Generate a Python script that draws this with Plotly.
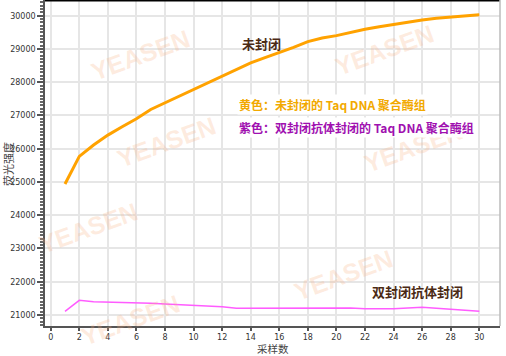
import plotly.graph_objects as go

# ---- data ----
samples = list(range(1, 31))
unblocked = [24940, 25770, 26110, 26410, 26660, 26900, 27180, 27380, 27580, 27790,
             27980, 28170, 28380, 28580, 28740, 28890, 29050, 29220, 29330, 29400,
             29500, 29590, 29670, 29740, 29800, 29870, 29920, 29960, 29990, 30030]
double_blocked = [21110, 21440, 21400, 21390, 21390, 21370, 21350, 21330, 21310, 21300,
                  21290, 21250, 21200, 21200, 21200, 21200, 21200, 21200, 21200, 21220,
                  21210, 21190, 21180, 21190, 21210, 21230, 21200, 21170, 21140, 21110]
x_ticks = list(range(0, 31, 2))
y_ticks = list(range(21000, 30001, 1000))

label_unblocked = "未封闭"
label_double = "双封闭抗体封闭"
legend_yellow = "黄色：未封闭的 Taq DNA 聚合酶组"
legend_purple = "紫色：双封闭抗体封闭的 Taq DNA 聚合酶组"
x_title = "采样数"
y_title = "荧光强度"

# ---- figure ----
W, H = 506, 356
L, R, T, B = 45, 6, 0, 30
pw, ph = W - L - R, H - T - B


def px(x):
    return (x - L) / pw


def py(y):
    return (H - B - y) / ph


fig = go.Figure()
fig.add_trace(go.Scatter(x=samples, y=unblocked, mode="lines",
                         line=dict(color="#FFA200", width=3), showlegend=False))
fig.add_trace(go.Scatter(x=samples, y=double_blocked, mode="lines",
                         line=dict(color="#FF5CFF", width=1.5), showlegend=False))

cjk = "Noto Sans CJK SC"
ann = []
# watermarks
for (cx, cy) in [(140, 55), (166, 142), (384, 50), (413, 147), (88, 228),
                 (130, 320), (343, 275)]:
    ann.append(dict(text="<b>YEASEN</b>", xref="paper", yref="paper", x=px(cx), y=py(cy),
                    xanchor="center", yanchor="middle",
                    showarrow=False, textangle=-20,
                    font=dict(family="Liberation Sans", size=25, color="rgba(248,175,130,0.25)")))


def text_ann(text, x, y, font, xanchor="center", angle=0, bg=None, pad=1):
    d = dict(text=text, xref="paper", yref="paper", x=px(x), y=py(y),
             xanchor=xanchor, yanchor="middle", showarrow=False, textangle=angle,
             font=font, borderpad=pad)
    if bg:
        d["bgcolor"] = bg
    return d


ann += [
    text_ann("<b>" + label_unblocked + "</b>", 261, 43,
             dict(family=cjk, size=13, color="#4B2A14")),
    text_ann("<b>" + label_double + "</b>", 417, 291,
             dict(family=cjk, size=13, color="#4B2A14")),
    text_ann("<b>" + legend_yellow + "</b>", 237, 104,
             dict(family=cjk, size=12, color="#F2A900"), xanchor="left", bg="white"),
    text_ann("<b>" + legend_purple + "</b>", 237, 128,
             dict(family=cjk, size=12, color="#A010B0"), xanchor="left", bg="white"),
    text_ann(y_title, 8, 164, dict(family=cjk, size=11, color="#444"), angle=-90),
    text_ann(x_title, 273, 348, dict(family=cjk, size=10.5, color="#444"), pad=0),
]

fig.update_layout(
    width=W, height=H,
    margin=dict(l=L, r=R, t=T, b=B),
    paper_bgcolor="white", plot_bgcolor="white",
    annotations=ann,
    shapes=[
        dict(type="line", xref="paper", yref="paper", x0=0, x1=1, y0=1, y1=1,
             line=dict(color="black", width=3)),
        dict(type="line", xref="paper", yref="paper", x0=1, x1=1, y0=0, y1=1,
             line=dict(color="#BBBBBB", width=1.5)),
    ],
)
fig.update_xaxes(
    range=[-0.4, 31.45], tickvals=x_ticks, ticktext=[str(v) for v in x_ticks],
    showgrid=True, gridcolor="#E6E6E6", gridwidth=1.5,
    showline=True, linecolor="#555", linewidth=1.5,
    ticks="outside", ticklen=3, tickcolor="#555", tickwidth=1.5,
    tickfont=dict(family="DejaVu Sans", size=8, color="#333"),
    zeroline=False,
)
fig.update_yaxes(
    range=[20669, 30472], tickvals=y_ticks, ticktext=[str(v) for v in y_ticks],
    showgrid=True, gridcolor="#E6E6E6", gridwidth=1.5,
    showline=True, linecolor="#555", linewidth=1.5,
    ticks="outside", ticklen=6, tickcolor="#555", tickwidth=1.5,
    minor=dict(dtick=100, tick0=0, ticks="outside", ticklen=3, tickcolor="#666", showgrid=False),
    tickfont=dict(family="DejaVu Sans", size=8, color="#333"),
    zeroline=False,
)

fig.write_html("out.html", config={"displayModeBar": False},
               post_script="document.body.style.margin='0';")
